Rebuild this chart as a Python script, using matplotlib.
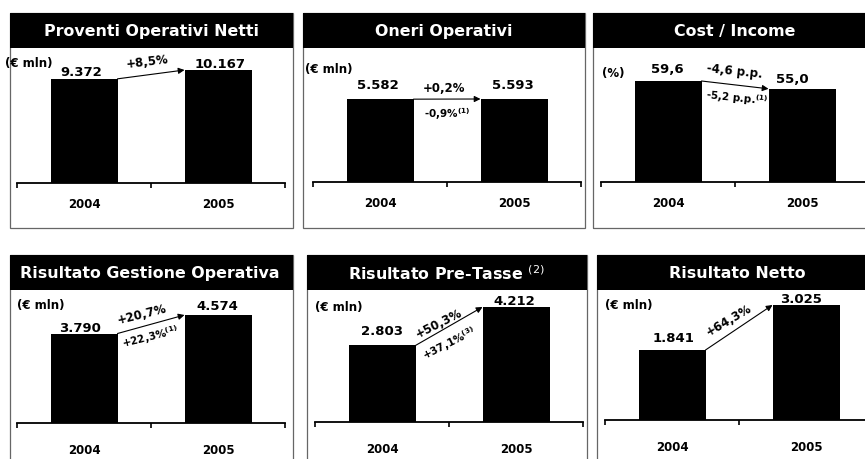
import numpy as np
import matplotlib
matplotlib.use('Agg')
import matplotlib.pyplot as plt
from matplotlib.patches import Rectangle

# chart data
titles = ['Proventi Operativi Netti', 'Oneri Operativi', 'Cost / Income',
          'Risultato Gestione Operativa', r'Risultato Pre-Tasse $^{(2)}$', 'Risultato Netto']
units = ['(€ mln)', '(€ mln)', '(%)', '(€ mln)', '(€ mln)', '(€ mln)']
years = ['2004', '2005']
values_2004 = [9372, 5582, 59.6, 3790, 2803, 1841]
values_2005 = [10167, 5593, 55.0, 4574, 4212, 3025]
labels_2004 = ['9.372', '5.582', '59,6', '3.790', '2.803', '1.841']
labels_2005 = ['10.167', '5.593', '55,0', '4.574', '4.212', '3.025']
change_main = ['+8,5%', '+0,2%', '-4,6 p.p.', '+20,7%', '+50,3%', '+64,3%']
change_adj = ['', r'-0,9%$^{\mathbf{(1)}}$', r'-5,2 p.p.$^{\mathbf{(1)}}$',
              r'+22,3%$^{\mathbf{(1)}}$', r'+37,1%$^{\mathbf{(3)}}$', '']

# layout (pixels)
W, H = 865, 459
box_x = [(10, 293), (303, 585), (593, 880), (10, 293), (307, 587), (597, 880)]
title_cx = [152, 444, 735, 150, 446, 737]
row_top = [13, 13, 13, 255, 255, 255]
row_bot = [228, 228, 228, 470, 470, 470]
bar_h = 35
ax_left = [17, 313, 601, 17, 315, 605]
ax_base = [183, 182, 182, 423, 422, 420]
max_bar_px = [113, 83, 101, 108, 115, 115]
year_pad = [11, 11, 11, 15, 15, 15]
unit_pos = [(5, 63), (305, 70), (602, 74), (17, 305), (315, 307), (605, 305)]
v1_off = [(-3, 3), (-2, 10), (-1, 8), (-4, 2), (0, 10), (1, 8)]
v2_off = [(2, 2), (-1, 10), (-10, 6), (-1, 5), (-2, 2), (-5, 2)]
main_off = [(-4, 12), (-3, 11), (0, 13), (-9, 10), (-10, 3), (-10, 7)]
adj_off = [None, (0, -15), (2, -13), (-1, -13), (0, -18), None]


def fx(px):
    return px / W


def fy(py):
    return 1 - py / H


fig = plt.figure(figsize=(W / 100, H / 100), dpi=100)
fig.patch.set_facecolor('white')

for i in range(6):
    x0, x1 = box_x[i]
    # panel frame
    fig.patches.append(Rectangle((fx(x0), fy(row_bot[i])), (x1 - x0) / W, (row_bot[i] - row_top[i]) / H,
                                 transform=fig.transFigure, fill=False, edgecolor='#666666', lw=0.9))
    # title bar
    fig.patches.append(Rectangle((fx(x0), fy(row_top[i] + bar_h)), (x1 - x0) / W, bar_h / H,
                                 transform=fig.transFigure, facecolor='black', edgecolor='black', lw=0))
    fig.text(fx(title_cx[i]), fy(row_top[i] + bar_h / 2 + 1), titles[i], color='white', fontsize=11.4,
             fontweight='bold', ha='center', va='center')

    top = row_top[i] + bar_h
    base = ax_base[i]
    ax = fig.add_axes([fx(ax_left[i]), fy(base), 268 / W, (base - top) / H])
    ax.patch.set_alpha(0)
    v1, v2 = values_2004[i], values_2005[i]
    ymax = max(v1, v2) * (base - top) / max_bar_px[i]
    ax.bar([0, 1], [v1, v2], width=0.5, color='black')
    ax.set_xlim(-0.5, 1.5)
    ax.set_ylim(0, ymax)
    for s in ['top', 'left', 'right']:
        ax.spines[s].set_visible(False)
    ax.spines['bottom'].set_linewidth(1.3)
    ax.set_yticks([])
    ax.set_xticks([0, 1])
    ax.set_xticklabels(years, fontsize=8.5, fontweight='bold')
    ax.tick_params(axis='x', which='major', length=0, pad=year_pad[i])
    ax.set_xticks([-0.5, 0.5, 1.5], minor=True)
    ax.tick_params(axis='x', which='minor', length=3.5, width=1.2, direction='out')

    ax.annotate(labels_2004[i], xy=(0, v1), xytext=v1_off[i], textcoords='offset pixels',
                ha='center', va='baseline', fontsize=9.5, fontweight='bold')
    ax.annotate(labels_2005[i], xy=(1, v2), xytext=v2_off[i], textcoords='offset pixels',
                ha='center', va='baseline', fontsize=9.5, fontweight='bold')

    # growth arrow between bars
    ax.annotate('', xy=(0.75, v2), xytext=(0.25, v1),
                arrowprops=dict(arrowstyle='-|>', lw=0.8, color='black', mutation_scale=9,
                                shrinkA=0, shrinkB=0))
    p1 = ax.transData.transform((0.25, v1))
    p2 = ax.transData.transform((0.75, v2))
    ang = np.degrees(np.arctan2(p2[1] - p1[1], p2[0] - p1[0]))
    mid = (0.5, (v1 + v2) / 2)
    ax.annotate(change_main[i], xy=mid, xytext=main_off[i], textcoords='offset pixels',
                ha='center', va='center', rotation=ang * 0.9, fontsize=8.5, fontweight='bold')
    if adj_off[i] is not None:
        ax.annotate(change_adj[i], xy=mid, xytext=adj_off[i], textcoords='offset pixels',
                    ha='center', va='center', rotation=ang * 0.9, fontsize=7.5, fontweight='bold')

    ux, uy = unit_pos[i]
    fig.text(fx(ux), fy(uy), units[i], fontsize=8.5, fontweight='bold', ha='left', va='center')

fig.savefig('out.png', dpi=100)
